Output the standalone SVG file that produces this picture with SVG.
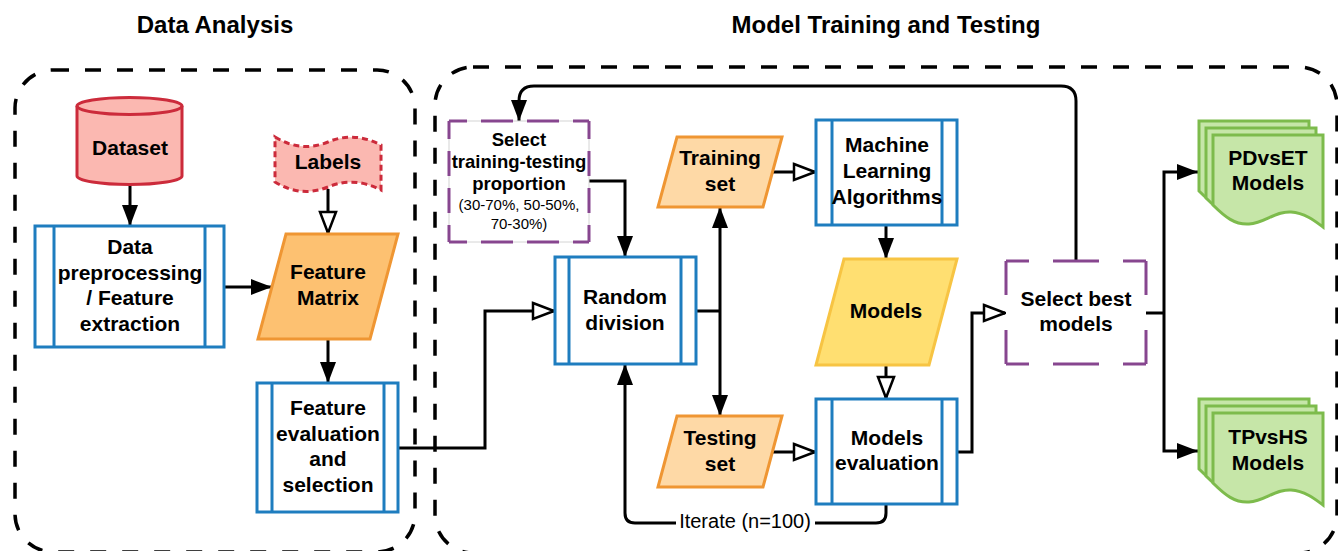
<svg xmlns="http://www.w3.org/2000/svg" width="1338" height="551" viewBox="0 0 1338 551">
<style>
.t{font-family:"Liberation Sans",Arial,sans-serif;font-weight:bold;font-size:21px;fill:#000;text-anchor:middle;dominant-baseline:central}
.title{font-family:"Liberation Sans",Arial,sans-serif;font-weight:bold;font-size:24px;fill:#000;text-anchor:middle}
.s{font-family:"Liberation Sans",Arial,sans-serif;font-size:15px;fill:#000;text-anchor:middle;dominant-baseline:central}
.r{font-family:"Liberation Sans",Arial,sans-serif;font-size:20px;fill:#000;text-anchor:middle;dominant-baseline:central}
.cont{fill:none;stroke:#000;stroke-width:3.5;stroke-dasharray:16 16}
.proc{fill:#fff;stroke:#1e7dbf;stroke-width:3}
.pl{stroke:#1e7dbf;stroke-width:3}
.c{fill:none;stroke:#000;stroke-width:3}
.doc{fill:#c6e6a8;stroke:#7dbb4c;stroke-width:3}
.pur{stroke:#87468f;stroke-width:3;fill:none}
</style>
<defs>
<marker id="af" markerUnits="userSpaceOnUse" markerWidth="22" markerHeight="18" refX="21" refY="8" orient="auto-start-reverse" viewBox="0 -1 22 18">
<path d="M0,0 L21,8 L0,16 Z" fill="#000"/>
</marker>
<marker id="ao" markerUnits="userSpaceOnUse" markerWidth="24" markerHeight="20" refX="21" refY="8" orient="auto" viewBox="-2 -2 24 20">
<path d="M0,0 L21,8 L0,16 Z" fill="#fff" stroke="#000" stroke-width="2.5"/>
</marker>
<path id="docp" d="M0,70 C12,82 22,90 36,89 C52,88 62,76 78,77 C92,78 102,86 110,92 L110,0 L0,0 Z"/>
</defs>

<g id="titles">
<text class="title" x="215" y="33">Data Analysis</text>
<text class="title" x="886" y="33">Model Training and Testing</text>
</g>

<g id="containers">
<rect class="cont" x="15" y="70" width="400" height="482" rx="38"/>
<rect class="cont" x="435" y="67" width="902" height="486" rx="38"/>
</g>

<g id="connectors">
<path class="c" d="M130,185 L130,226" marker-end="url(#af)"/>
<path class="c" d="M328,189 L328,233" marker-end="url(#ao)"/>
<path class="c" d="M224,287 L272,287" marker-end="url(#af)"/>
<path class="c" d="M328,339 L328,383" marker-end="url(#af)"/>
<path class="c" d="M398,448 L485,448 L485,311 L554,311" marker-end="url(#ao)"/>
<path class="c" d="M589,181 L625,181 L625,257" marker-end="url(#af)"/>
<path class="c" d="M696,311 L720,311"/>
<path class="c" d="M720,207 L720,416" marker-start="url(#af)" marker-end="url(#af)"/>
<path class="c" d="M773,172 L815,172" marker-end="url(#ao)"/>
<path class="c" d="M772,452 L815,452" marker-end="url(#ao)"/>
<path class="c" d="M886,225 L886,259" marker-end="url(#af)"/>
<path class="c" d="M886,365 L886,398" marker-end="url(#ao)"/>
<path class="c" d="M957,452 L972,452 L972,313 L1005,313" marker-end="url(#ao)"/>
<path class="c" d="M1076,261 L1076,101 Q1076,86 1061,86 L534,86 Q519,86 519,101 L519,121" marker-end="url(#af)"/>
<path class="c" d="M1146,313 L1164,313"/>
<path class="c" d="M1164,313 L1164,172 L1198,172" marker-end="url(#af)"/>
<path class="c" d="M1164,313 L1164,451 L1198,451" marker-end="url(#af)"/>
<path class="c" d="M886,504 L886,513 Q886,523 876,523 L635,523 Q625,523 625,513 L625,364" marker-end="url(#af)"/>
<rect x="676" y="510" width="139" height="24" fill="#fff"/>
<text class="r" x="745" y="521">Iterate (n=100)</text>
</g>

<g id="dataset">
<path d="M77,106 A52.5,8.5 0 0 1 182,106 L182,176 A52.5,8.5 0 0 1 77,176 Z" fill="#fbb8b1" stroke="#cc2b3b" stroke-width="3"/>
<path d="M77,106 A52.5,8.5 0 0 0 182,106" fill="none" stroke="#cc2b3b" stroke-width="3"/>
<text class="t" x="130" y="147">Dataset</text>
</g>

<g id="labels">
<path d="M275,137 Q301,153 328,142 Q354,131 381,145 L381,190 Q354,176 328,187 Q301,198 275,182 Z" fill="#fbb8b1" stroke="#cc2b3b" stroke-width="3" stroke-dasharray="6 4"/>
<text class="t" x="328" y="161">Labels</text>
</g>

<g id="preprocessing">
<rect class="proc" x="35" y="226" width="189" height="121"/>
<line class="pl" x1="54" y1="226" x2="54" y2="347"/>
<line class="pl" x1="205" y1="226" x2="205" y2="347"/>
<text class="t" x="130" y="246">Data</text>
<text class="t" x="130" y="272">preprocessing</text>
<text class="t" x="130" y="297">/ Feature</text>
<text class="t" x="130" y="323">extraction</text>
</g>

<g id="feature-matrix">
<path d="M286,234 L398,234 L370,339 L258,339 Z" fill="#fdc171" stroke="#ef9633" stroke-width="3"/>
<text class="t" x="328" y="271">Feature</text>
<text class="t" x="328" y="297">Matrix</text>
</g>

<g id="feature-eval">
<rect class="proc" x="257" y="383" width="141" height="129"/>
<line class="pl" x1="272" y1="383" x2="272" y2="512"/>
<line class="pl" x1="384" y1="383" x2="384" y2="512"/>
<text class="t" x="328" y="407">Feature</text>
<text class="t" x="328" y="433">evaluation</text>
<text class="t" x="328" y="458">and</text>
<text class="t" x="328" y="484">selection</text>
</g>

<g id="select-proportion">
<rect x="449" y="121" width="140" height="121" fill="#fff" stroke="#d4d4d4" stroke-width="1"/>
<line class="pur" x1="449" y1="121" x2="589" y2="121" stroke-dasharray="18 14 32 14 32 14"/>
<line class="pur" x1="449" y1="242" x2="589" y2="242" stroke-dasharray="18 14 32 14 32 14"/>
<line class="pur" x1="449" y1="121" x2="449" y2="242" stroke-dasharray="18 12 25 12 25 12"/>
<line class="pur" x1="589" y1="121" x2="589" y2="242" stroke-dasharray="18 12 25 12 25 12"/>
<text class="t" x="519" y="139" style="font-size:18.5px">Select</text>
<text class="t" x="519" y="161" style="font-size:18.5px">training-testing</text>
<text class="t" x="519" y="183" style="font-size:18.5px">proportion</text>
<text class="s" x="519" y="204">(30-70%, 50-50%,</text>
<text class="s" x="519" y="223">70-30%)</text>
</g>

<g id="random-division">
<rect class="proc" x="555" y="257" width="141" height="107"/>
<line class="pl" x1="569" y1="257" x2="569" y2="364"/>
<line class="pl" x1="681" y1="257" x2="681" y2="364"/>
<text class="t" x="625" y="296">Random</text>
<text class="t" x="625" y="322">division</text>
</g>

<g id="training-set">
<path d="M677,137 L782,137 L763,207 L658,207 Z" fill="#fed9a6" stroke="#ef9633" stroke-width="3"/>
<text class="t" x="720" y="157">Training</text>
<text class="t" x="720" y="183">set</text>
</g>

<g id="testing-set">
<path d="M677,416 L782,416 L763,487 L658,487 Z" fill="#fed9a6" stroke="#ef9633" stroke-width="3"/>
<text class="t" x="720" y="437">Testing</text>
<text class="t" x="720" y="463">set</text>
</g>

<g id="ml-algorithms">
<rect class="proc" x="816" y="120" width="141" height="105"/>
<line class="pl" x1="832" y1="120" x2="832" y2="225"/>
<line class="pl" x1="942" y1="120" x2="942" y2="225"/>
<text class="t" x="887" y="144">Machine</text>
<text class="t" x="887" y="170">Learning</text>
<text class="t" x="887" y="196">Algorithms</text>
</g>

<g id="models">
<path d="M844,259 L957,259 L929,365 L816,365 Z" fill="#ffdf71" stroke="#f7c443" stroke-width="3"/>
<text class="t" x="886" y="310">Models</text>
</g>

<g id="models-evaluation">
<rect class="proc" x="816" y="399" width="141" height="105"/>
<line class="pl" x1="832" y1="399" x2="832" y2="504"/>
<line class="pl" x1="942" y1="399" x2="942" y2="504"/>
<text class="t" x="887" y="437">Models</text>
<text class="t" x="887" y="462">evaluation</text>
</g>

<g id="select-best">
<rect x="1006" y="261" width="140" height="103" fill="#fff"/>
<line class="pur" x1="1006" y1="261" x2="1146" y2="261" stroke-dasharray="23 24 46 24"/>
<line class="pur" x1="1006" y1="364" x2="1146" y2="364" stroke-dasharray="23 24 46 24"/>
<line class="pur" x1="1006" y1="261" x2="1006" y2="364" stroke-dasharray="34 35"/>
<line class="pur" x1="1146" y1="261" x2="1146" y2="364" stroke-dasharray="34 35"/>
<text class="t" x="1076" y="298">Select best</text>
<text class="t" x="1076" y="323">models</text>
</g>

<g id="pdvset-models">
<use href="#docp" class="doc" transform="translate(1199,121)"/>
<use href="#docp" class="doc" transform="translate(1206,128)"/>
<use href="#docp" class="doc" transform="translate(1213,135)"/>
<text class="t" x="1268" y="157">PDvsET</text>
<text class="t" x="1268" y="182">Models</text>
</g>

<g id="tpvshs-models">
<use href="#docp" class="doc" transform="translate(1199,399)"/>
<use href="#docp" class="doc" transform="translate(1206,406)"/>
<use href="#docp" class="doc" transform="translate(1213,413)"/>
<text class="t" x="1268" y="436">TPvsHS</text>
<text class="t" x="1268" y="462">Models</text>
</g>
</svg>
